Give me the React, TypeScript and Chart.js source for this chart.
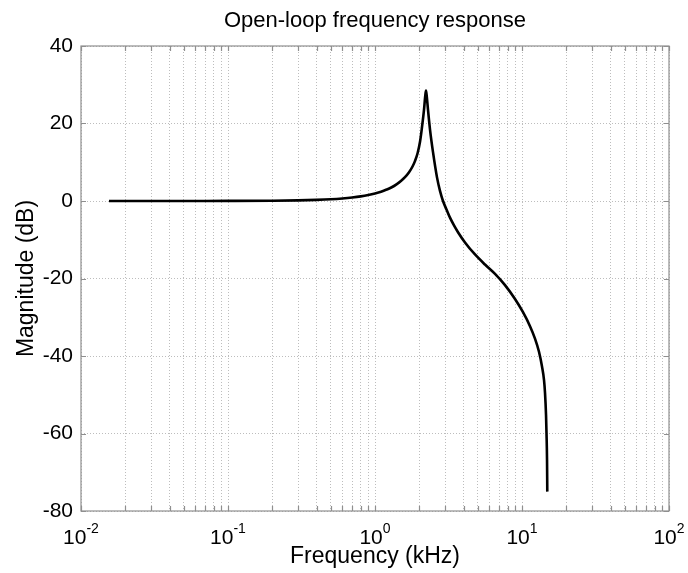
import React, { useEffect, useRef } from "react";
import { Chart, registerables } from "chart.js";

Chart.register(...registerables);

// ---- data ----
const freqKHz = [
  0.0155, 0.03, 0.06, 0.1, 0.2, 0.3, 0.4, 0.5, 0.6, 0.7, 0.8, 0.9, 1.0, 1.1,
  1.2, 1.3, 1.4, 1.5, 1.6, 1.7, 1.8, 1.87, 1.95, 2.024, 2.079, 2.154, 2.195,
  2.223, 2.25, 2.294, 2.366, 2.481, 2.641, 2.768, 2.901, 3.065, 3.237, 3.447,
  3.67, 4.095, 4.789, 5.602, 6.553, 7.663, 8.963, 10.158, 11.336, 12.257,
  13.05, 13.68, 14.12, 14.34, 14.57, 14.68, 14.8, 14.86,
];
const magnitudeDb = [
  0, 0, 0.01, 0.02, 0.07, 0.16, 0.29, 0.45, 0.66, 0.91, 1.2, 1.55, 1.95, 2.4,
  2.95, 3.55, 4.3, 5.15, 6.15, 7.35, 8.9, 10.3, 12.4, 15.3, 18.5, 23.5, 27.0,
  28.5, 27.0, 23.5, 18.5, 12.6, 6.1, 2.6, 0, -2.2, -4.3, -6.3,
  -8.05, -10.7, -13.8, -16.4, -18.8, -21.7, -25.3, -28.7, -32.3, -35.5,
  -38.9, -42.7, -46.2, -49.5, -55.2, -59.9, -66.8, -75.0,
];

const yTickValues = [40, 20, 0, -20, -40, -60, -80];
const xDecades = [0.01, 0.1, 1, 10, 100];
const xDecadeExponents = ["-2", "-1", "0", "1", "2"];
const xMinorMultipliers = [1, 2, 3, 4, 5, 6, 7, 8, 9];

const titleText = "Open-loop frequency response";
const xTitleText = "Frequency (kHz)";
const yTitleText = "Magnitude (dB)";

const FONT = "'Liberation Sans', Arial, Helvetica, sans-serif";

const xGridValues: number[] = [];
xDecades.slice(0, -1).forEach((d) => {
  xMinorMultipliers.forEach((m) => xGridValues.push(Number((m * d).toPrecision(6))));
});
xGridValues.push(xDecades[xDecades.length - 1]);

const decorPlugin = {
  id: "decor",
  afterDraw(chart: any) {
    const { ctx, chartArea: a, scales } = chart;
    const xs = scales.x;
    const ys = scales.y;
    ctx.save();
    // frame
    ctx.strokeStyle = "#8f8f8f";
    ctx.lineWidth = 1.2;
    ctx.strokeRect(a.left, a.top, a.right - a.left, a.bottom - a.top);
    // inward tick marks
    ctx.beginPath();
    xGridValues.forEach((v) => {
      const px = Math.round(xs.getPixelForValue(v)) + 0.5;
      ctx.moveTo(px, a.bottom);
      ctx.lineTo(px, a.bottom - 5);
      ctx.moveTo(px, a.top);
      ctx.lineTo(px, a.top + 5);
    });
    yTickValues.forEach((v) => {
      const py = Math.round(ys.getPixelForValue(v)) + 0.5;
      ctx.moveTo(a.left, py);
      ctx.lineTo(a.left + 5, py);
      ctx.moveTo(a.right, py);
      ctx.lineTo(a.right - 5, py);
    });
    ctx.stroke();

    ctx.fillStyle = "#000";
    // title
    ctx.font = `22px ${FONT}`;
    ctx.textAlign = "center";
    ctx.textBaseline = "middle";
    ctx.fillText(titleText, (a.left + a.right) / 2, 21);
    // x title
    ctx.font = `23px ${FONT}`;
    ctx.fillText(xTitleText, (a.left + a.right) / 2, 557);
    // y title
    ctx.save();
    ctx.translate(27, (a.top + a.bottom) / 2);
    ctx.rotate(-Math.PI / 2);
    ctx.fillText(yTitleText, 0, 0);
    ctx.restore();
    // x tick labels 10^n
    ctx.textBaseline = "alphabetic";
    ctx.textAlign = "left";
    xDecades.forEach((d, i) => {
      const px = xs.getPixelForValue(d);
      ctx.font = `21px ${FONT}`;
      const wBase = ctx.measureText("10").width;
      ctx.font = `14px ${FONT}`;
      const wExp = ctx.measureText(xDecadeExponents[i]).width;
      const start = px - (wBase + wExp) / 2;
      ctx.font = `21px ${FONT}`;
      ctx.fillText("10", start, 544);
      ctx.font = `14px ${FONT}`;
      ctx.fillText(xDecadeExponents[i], start + wBase, 533);
    });
    ctx.restore();
  },
};

export default function App() {
  const canvasRef = useRef<HTMLCanvasElement | null>(null);

  useEffect(() => {
    document.body.style.margin = "0";
    const canvas = canvasRef.current;
    if (!canvas) return;
    const chart = new Chart(canvas, {
      type: "line",
      data: {
        datasets: [
          {
            data: freqKHz.map((f, i) => ({ x: f, y: magnitudeDb[i] })),
            borderColor: "#000",
            borderWidth: 2.6,
            pointRadius: 0,
            fill: false,
            cubicInterpolationMode: "monotone",
          },
        ],
      },
      options: {
        responsive: false,
        animation: false,
        events: [],
        layout: { padding: { left: 0, right: 19, top: 46, bottom: 0 } },
        plugins: {
          legend: { display: false },
          tooltip: { enabled: false },
          title: { display: false },
        },
        scales: {
          x: {
            type: "logarithmic",
            min: 0.01,
            max: 100,
            afterBuildTicks: (s: any) => {
              s.ticks = xGridValues.map((v) => ({ value: v }));
            },
            afterFit: (s: any) => {
              s.height = 62;
            },
            ticks: { display: false, autoSkip: false },
            grid: { color: "#bdbdbd", lineWidth: 1, drawTicks: false },
            border: { display: false, dash: [1, 2] },
          },
          y: {
            type: "linear",
            min: -80,
            max: 40,
            afterBuildTicks: (s: any) => {
              s.ticks = yTickValues.map((v) => ({ value: v }));
            },
            afterFit: (s: any) => {
              s.width = 81;
            },
            ticks: {
              autoSkip: false,
              color: "#000",
              padding: 8,
              font: { family: FONT, size: 21 },
            },
            grid: { color: "#bdbdbd", lineWidth: 1, drawTicks: false },
            border: { display: false, dash: [1, 2] },
          },
        },
      } as any,
      plugins: [decorPlugin],
    });
    return () => chart.destroy();
  }, []);

  return (
    <div style={{ width: 688, height: 573, background: "#fff" }}>
      <canvas ref={canvasRef} width={688} height={573} />
    </div>
  );
}
